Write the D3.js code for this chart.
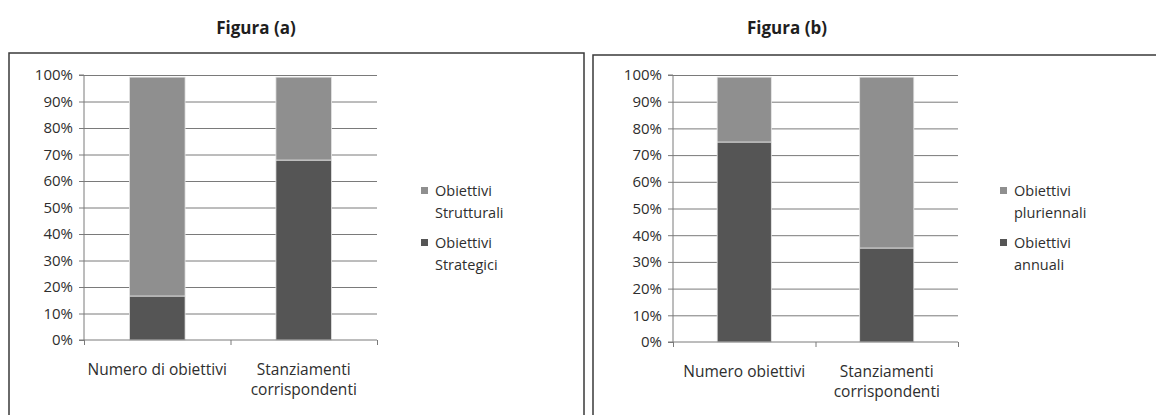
<!DOCTYPE html>
<html>
<head>
<meta charset="utf-8">
<script src="https://cdn.jsdelivr.net/npm/d3@7"></script>
<style>
  body { margin: 0; background: #fff; }
  svg { display: block; }
  text { font-family: "Open Sans", sans-serif; fill: #2e2e2e; }
  .titolo { font-weight: bold; font-size: 17px; fill: #1e1e1e; }
  .asse text { font-size: 15px; }
  .asse path, .asse line { stroke: #7a7a7a; }
  .griglia line { stroke: #7a7a7a; }
  .griglia path { display: none; }
</style>
</head>
<body>
<div id="graf"></div>
<script>
// dati (percentuali)
const categorieA = ["Numero di obiettivi", "Stanziamenti corrispondenti"];
const strategici = [16.6, 67.9];
const strutturali = [82.6, 31.3];
const legendaA = ["Obiettivi Strutturali", "Obiettivi Strategici"];

const categorieB = ["Numero obiettivi", "Stanziamenti corrispondenti"];
const annuali = [74.9, 35.2];
const pluriennali = [24.3, 64.0];
const legendaB = ["Obiettivi pluriennali", "Obiettivi annuali"];

const tickY = [0, 10, 20, 30, 40, 50, 60, 70, 80, 90, 100];

const scuro = "#555555";
const chiaro = "#8f8f8f";

const ancho_total = 1156;
const alto_total = 415;

const svg = d3.select("#graf")
  .append("svg")
  .attr("width", ancho_total)
  .attr("height", alto_total);

// spezza un testo su più righe se supera la larghezza
function wrap(sel, maxW, lineH) {
  sel.each(function () {
    const t = d3.select(this);
    const parole = t.text().split(" ");
    const x = t.attr("x") || 0;
    t.text(null);
    let riga = [];
    let tspan = t.append("tspan").attr("x", x).attr("dy", 0);
    parole.forEach(p => {
      riga.push(p);
      tspan.text(riga.join(" "));
      if (tspan.node().getComputedTextLength() > maxW && riga.length > 1) {
        riga.pop();
        tspan.text(riga.join(" "));
        riga = [p];
        tspan = t.append("tspan").attr("x", x).attr("dy", lineH).text(p);
      }
    });
  });
}

function pannello(cfg) {
  const { bordo, titoloX, titolo, m, categorie, basso, alto, legenda, legX } = cfg;

  svg.append("rect")
    .attr("x", bordo.x).attr("y", bordo.y)
    .attr("width", bordo.w).attr("height", bordo.h)
    .attr("fill", "none").attr("stroke", "#3a3a3a").attr("stroke-width", 1.5);

  svg.append("text")
    .attr("class", "titolo")
    .attr("x", titoloX).attr("y", 34)
    .attr("text-anchor", "middle")
    .text(titolo);

  const ancho = m.right - m.left;
  const alto_p = m.bottom - m.top;

  const g = svg.append("g").attr("transform", `translate(${m.left}, ${m.top})`);

  const y = d3.scaleLinear().domain([0, 100]).range([alto_p, 0]);
  const x = d3.scaleBand().domain(categorie).range([0, ancho])
    .paddingInner(0.62).paddingOuter(0.31);
  const bordi = d3.scaleLinear().domain([0, categorie.length]).range([0, ancho]);

  // griglia
  g.append("g").attr("class", "griglia")
    .call(d3.axisLeft(y).tickValues(tickY.slice(1)).tickSize(-ancho).tickFormat(""));

  // barre impilate
  const righe = categorie.map((c, i) => ({ cat: c, basso: basso[i], alto: alto[i] }));
  const serie = d3.stack().keys(["basso", "alto"])(righe);
  const colore = d3.scaleOrdinal().domain(["basso", "alto"]).range([scuro, chiaro]);

  g.selectAll(".serie")
    .data(serie)
    .join("g")
    .attr("fill", d => colore(d.key))
    .selectAll("rect")
    .data(d => d)
    .join("rect")
    .attr("x", d => x(d.data.cat))
    .attr("width", x.bandwidth())
    .attr("y", d => y(d[1]))
    .attr("height", d => y(d[0]) - y(d[1]))
    .attr("stroke", "#e6e6e6")
    .attr("stroke-width", 0.8);

  // asse y
  g.append("g").attr("class", "asse")
    .call(d3.axisLeft(y).tickValues(tickY).tickSize(5).tickPadding(6).tickFormat(d => d + "%"))
    .call(a => a.select(".domain").attr("d", `M-5,${alto_p}H0V0H-5`));

  // asse x
  g.append("g").attr("class", "asse")
    .attr("transform", `translate(0, ${alto_p})`)
    .call(d3.axisBottom(bordi).tickValues(d3.range(categorie.length + 1)).tickSize(5).tickFormat(""))
    .call(a => a.select(".domain").attr("d", `M0,0H${ancho}`));

  g.selectAll(".etichetta")
    .data(categorie)
    .join("text")
    .attr("class", "etichetta")
    .attr("x", d => x(d) + x.bandwidth() / 2)
    .attr("y", alto_p + 35)
    .attr("text-anchor", "middle")
    .style("font-size", "15.5px")
    .text(d => d)
    .call(wrap, x.step() + 2, 20);

  // legenda (alto sopra, basso sotto)
  const voci = [
    { nome: legenda[0], colore: chiaro },
    { nome: legenda[1], colore: scuro },
  ];
  const leg = svg.append("g");
  voci.forEach((v, i) => {
    const y0 = 196 + i * 52;
    leg.append("rect")
      .attr("x", legX).attr("y", y0 - 9)
      .attr("width", 7).attr("height", 7)
      .attr("fill", v.colore);
    leg.append("text")
      .attr("x", legX + 14).attr("y", y0)
      .style("font-size", "14.5px")
      .text(v.nome)
      .call(wrap, 90, 22);
  });
}

pannello({
  bordo: { x: 9, y: 53, w: 575, h: 380 },
  titoloX: 256,
  titolo: "Figura (a)",
  m: { left: 84, right: 377, top: 75, bottom: 340 },
  categorie: categorieA,
  basso: strategici,
  alto: strutturali,
  legenda: legendaA,
  legX: 421,
});

pannello({
  bordo: { x: 593, y: 55, w: 600, h: 380 },
  titoloX: 787,
  titolo: "Figura (b)",
  m: { left: 673, right: 958, top: 75, bottom: 342 },
  categorie: categorieB,
  basso: annuali,
  alto: pluriennali,
  legenda: legendaB,
  legX: 1000,
});
</script>
</body>
</html>
